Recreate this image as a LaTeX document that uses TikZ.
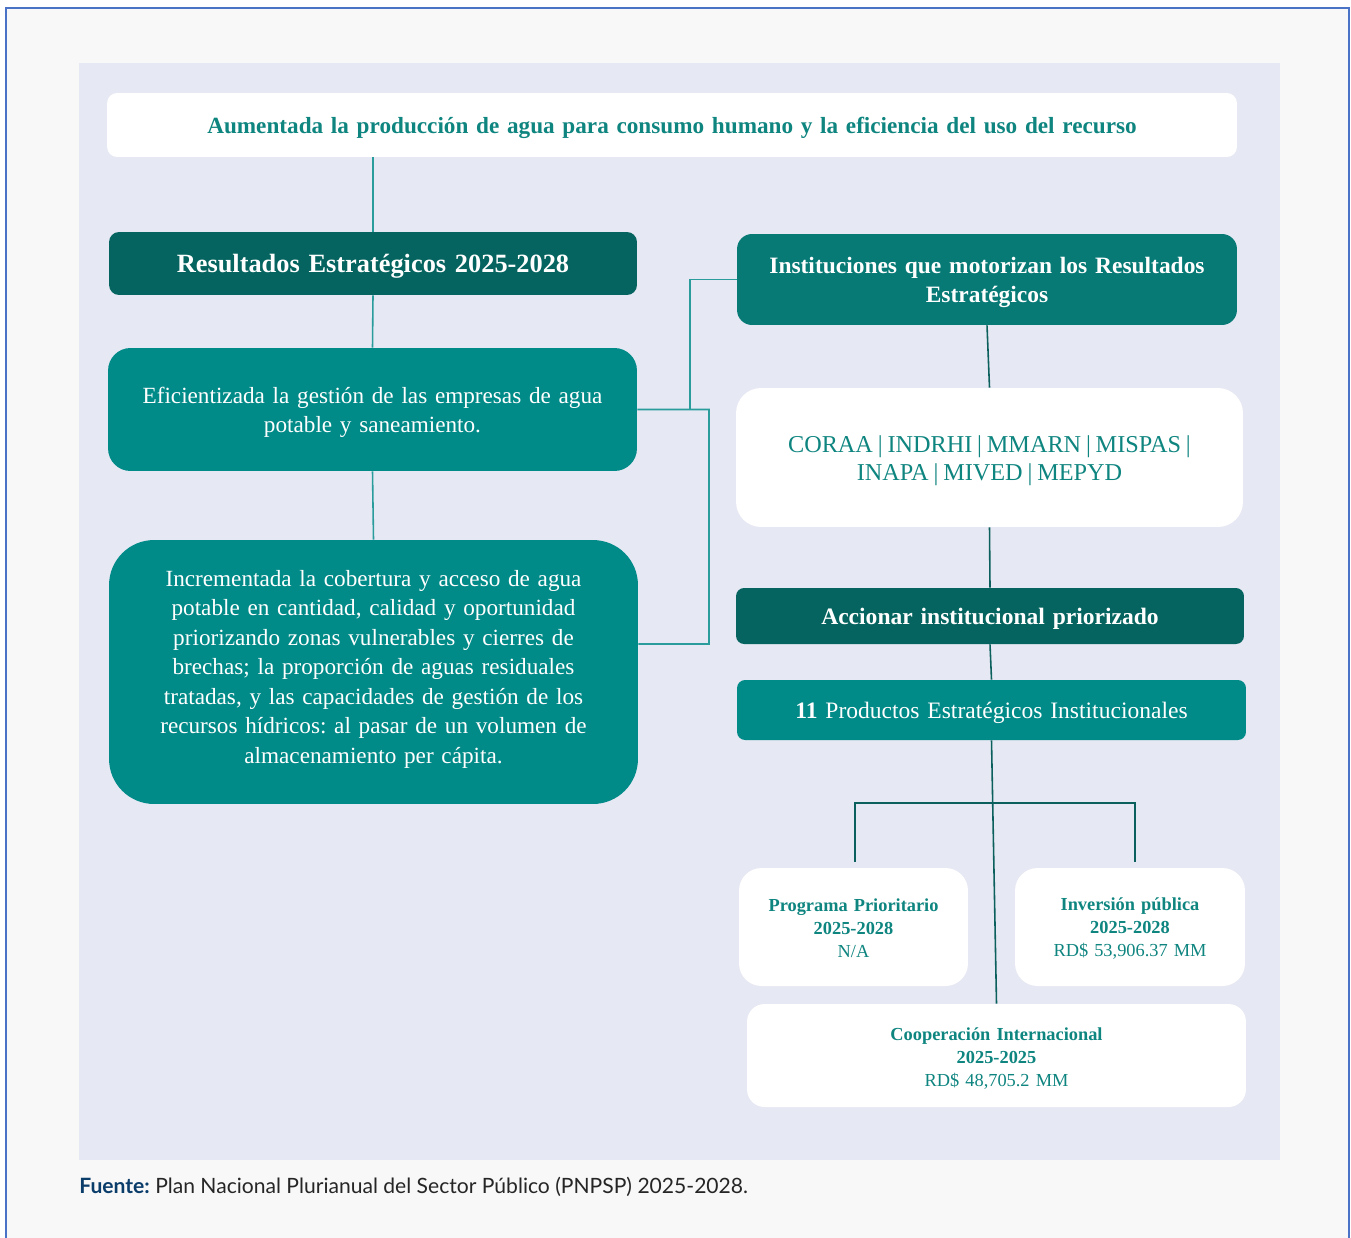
\documentclass[tikz,border=0pt]{standalone}
\usepackage{fontspec}
\setmainfont{Liberation Serif}
\newfontfamily\footfont{Lato}
\usetikzlibrary{calc}
\frenchspacing

\definecolor{pagebg}{HTML}{F8F8F8}
\definecolor{panelbg}{HTML}{E6E8F3}
\definecolor{framec}{HTML}{4A73C8}
\definecolor{darkteal}{HTML}{05645F}
\definecolor{midteal}{HTML}{077A76}
\definecolor{boxteal}{HTML}{008A88}
\definecolor{tealtxt}{HTML}{0F8580}
\definecolor{linkl}{HTML}{2A9C9C}
\definecolor{linkr}{HTML}{0B5F5C}
\definecolor{fuente}{HTML}{0B3D6B}
\newcommand{\instsep}{\hspace{.2em}|\hspace{.2em}}

\begin{document}
\begin{tikzpicture}[x=.02cm,y=-.02cm,
  box/.style={inner sep=0pt,align=center},
  oneline/.style={text depth=0pt},
  whitebox/.style={box,fill=white,text=tealtxt},
  darkbox/.style={box,fill=darkteal,text=white},
  tealbox/.style={box,fill=boxteal,text=white},
  linkL/.style={draw=linkl,line width=.9pt},
  linkR/.style={draw=linkr,line width=.9pt}]
 \useasboundingbox (0,0) rectangle (1351,1237);
 \fill[white] (0,0) rectangle (1351,1237);
 \draw[fill=pagebg,draw=framec,line width=.6pt] (6,8) rectangle (1349,1245);
 \fill[panelbg] (79,63) rectangle (1280,1160);
 % left column
 \node[whitebox,oneline,rounded corners=.2cm,text width=22.6cm,minimum height=1.28cm,
  font=\fontsize{13.2}{16}\selectfont\bfseries] (top) at (672,125)
  {Aumentada la producción de agua para consumo humano y la eficiencia del uso del recurso};
 \node[darkbox,oneline,rounded corners=.2cm,text width=10.56cm,minimum height=1.26cm,
  font=\fontsize{15}{18}\selectfont\bfseries] (res) at (373,263.5)
  {Resultados Estratégicos 2025-2028};
 \node[tealbox,rounded corners=.45cm,text width=10.58cm,minimum height=2.46cm,text depth=16.15pt,
  font=\fontsize{13.2}{16.7}\selectfont] (efi) at (372.5,409.5)
  {Eficientizada la gestión de las empresas de agua\\ potable y saneamiento.};
 \node[tealbox,rounded corners=.9cm,text width=10.58cm,minimum height=5.28cm,text depth=107pt,
  font=\fontsize{13.2}{16.8}\selectfont] (inc) at (373.5,672)
  {Incrementada la cobertura y acceso de agua\\ potable en cantidad, calidad y oportunidad\\
   priorizando zonas vulnerables y cierres de\\ brechas; la proporción de aguas residuales\\
   tratadas, y las capacidades de gestión de los\\ recursos hídricos: al pasar de un volumen de\\
   almacenamiento per cápita.};
 % right column
 \node[box,fill=midteal,text=white,rounded corners=.3cm,text width=10cm,minimum height=1.82cm,
  text depth=15.9pt,font=\fontsize{13.35}{16.4}\selectfont\bfseries] (inst) at (987,279.5)
  {Instituciones que motorizan los Resultados\\ Estratégicos};
 \node[whitebox,rounded corners=.5cm,text width=10.14cm,minimum height=2.78cm,text depth=15.5pt,
  font=\fontsize{13.8}{16}\selectfont] (list) at (989.5,457.5)
  {CORAA\instsep INDRHI\instsep MMARN\instsep MISPAS\instsep\\ INAPA\instsep MIVED\instsep MEPYD};
 \node[darkbox,oneline,rounded corners=.16cm,text width=10.16cm,minimum height=1.12cm,
  font=\fontsize{13.4}{16}\selectfont\bfseries] (acc) at (990,616)
  {Accionar institucional priorizado};
 \node[tealbox,oneline,rounded corners=.16cm,text width=10.18cm,minimum height=1.2cm,
  font=\fontsize{13.4}{16}\selectfont] (prod) at (991.5,710)
  {\textbf{11} Productos Estratégicos Institucionales};
 \node[whitebox,rounded corners=.45cm,text width=4.58cm,minimum height=2.36cm,text depth=25pt,
  font=\fontsize{10.45}{13}\selectfont] (prog) at (853.5,927)
  {\textbf{Programa Prioritario}\\ \textbf{2025-2028}\\ N/A};
 \node[whitebox,rounded corners=.45cm,text width=4.6cm,minimum height=2.36cm,text depth=25.5pt,
  font=\fontsize{10.45}{13}\selectfont] (inv) at (1130,927)
  {\textbf{Inversión pública}\\ \textbf{2025-2028}\\ RD\$ 53,906.37 MM};
 \node[whitebox,rounded corners=.35cm,text width=9.98cm,minimum height=2.06cm,text depth=24.4pt,
  font=\fontsize{10.45}{13}\selectfont] (coop) at (996.5,1055.5)
  {\textbf{Cooperación Internacional}\\ \textbf{2025-2025}\\ RD\$ 48,705.2 MM};
 % connectors
 \coordinate (bx) at (709,644);
 \coordinate (jn) at (690,409.5);
 \coordinate (fork) at (995,803);
 \draw[linkL] (top.south -| res.north) -- (res.north);
 \draw[linkL] (res.south) -- (efi.north);
 \draw[linkL] (efi.south) -- (inc.north);
 \draw[linkL] (efi.east) -| (bx) -- ([yshift=.56cm]inc.east);
 \draw[linkL] (inst.west) -| (jn);
 \draw[linkR] (inst.south) -- (list.north);
 \draw[linkR] (list.south) -- (acc.north);
 \draw[linkR] (acc.south) -- (prod.north);
 \draw[linkR] (prod.south) -- (coop.north);
 \draw[linkR,shorten <=.12cm,shorten >=.12cm] ([xshift=.03cm]prog.north) |- (fork) -| ([xshift=.1cm]inv.north);
 % source
 \node[anchor=base west,inner sep=0pt,font=\footfont\fontsize{12}{14}\selectfont,text=black!85] (src)
  at (79,1193) {\textcolor{fuente}{\bfseries Fuente:} Plan Nacional Plurianual del Sector Público (PNPSP) 2025-2028.};
\end{tikzpicture}
\end{document}
